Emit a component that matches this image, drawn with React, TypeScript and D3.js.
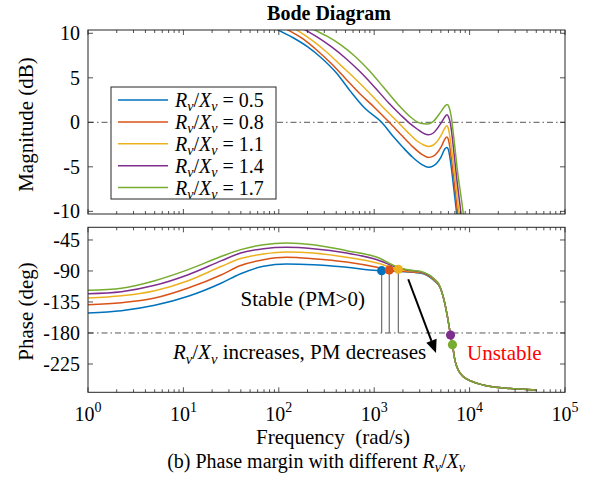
import React from "react";
import * as d3 from "d3";

// ---------- data ----------
const seriesLabels = ["0.5", "0.8", "1.1", "1.4", "1.7"];
const seriesColors = ["#0072BD", "#D95319", "#EDB120", "#7E2F8E", "#77AC30"];

// magnitude: [log10(ω rad/s), dB]
const magBlue: [number, number][] = [
  [1.85, 11.4], [1.995, 10.36], [2.15, 9.5], [2.3, 8.5], [2.45, 7.2], [2.6, 5.6], [2.75, 3.5],
  [2.9, 1.6], [3.078, 0], [3.2, -1.6], [3.3, -2.8], [3.4, -3.9], [3.5, -4.75], [3.567, -5.06],
  [3.62, -4.9], [3.7, -3.9], [3.74, -3.0], [3.76, -2.82], [3.775, -3.0], [3.79, -3.7],
  [3.81, -5.2], [3.835, -7.5], [3.865, -10.3], [3.9, -14],
];
const magOrange: [number, number][] = [
  [1.95, 11.2], [2.1, 10.36], [2.25, 9.4], [2.4, 8.1], [2.55, 6.6], [2.7, 4.9], [2.85, 3.2],
  [3.0, 1.7], [3.158, 0], [3.3, -1.6], [3.4, -2.7], [3.5, -3.6], [3.567, -3.94], [3.62, -3.8],
  [3.7, -2.8], [3.74, -1.9], [3.76, -1.66], [3.775, -1.85], [3.79, -2.6], [3.81, -4.2],
  [3.84, -6.8], [3.875, -10.3], [3.91, -14],
];
const magYellow: [number, number][] = [
  [2.05, 11.2], [2.19, 10.36], [2.35, 9.2], [2.5, 7.9], [2.65, 6.4], [2.8, 4.9], [2.95, 3.3],
  [3.1, 1.6], [3.25, 0], [3.35, -1.1], [3.45, -2.1], [3.52, -2.55], [3.567, -2.71], [3.62, -2.55],
  [3.7, -1.5], [3.74, -0.65], [3.76, -0.39], [3.775, -0.6], [3.79, -1.4], [3.815, -3.3],
  [3.85, -6.5], [3.89, -10.3], [3.93, -14.5],
];
const magPurple: [number, number][] = [
  [2.15, 11.2], [2.28, 10.36], [2.4, 9.6], [2.55, 8.5], [2.7, 7.2], [2.85, 5.7], [3.0, 4.0],
  [3.15, 2.2], [3.28, 0.8], [3.36, 0], [3.45, -0.75], [3.52, -1.25], [3.567, -1.4], [3.62, -1.2],
  [3.7, -0.1], [3.74, 0.6], [3.762, 0.84], [3.78, 0.6], [3.8, -0.2], [3.83, -2.8],
  [3.865, -6.3], [3.91, -10.3], [3.95, -14.5],
];
const magGreen: [number, number][] = [
  [2.25, 11.2], [2.38, 10.36], [2.5, 9.7], [2.65, 8.7], [2.8, 7.4], [2.95, 5.8], [3.1, 3.9],
  [3.25, 2.0], [3.38, 0.6], [3.46, 0], [3.52, -0.17], [3.56, -0.2], [3.62, 0.1], [3.7, 1.2],
  [3.74, 1.8], [3.765, 2.0], [3.785, 1.7], [3.805, 0.8], [3.83, -1.3], [3.87, -5.2],
  [3.934, -10.3], [3.97, -14],
];

// phase: [log10(ω rad/s), deg]
const phaseTail: [number, number][] = [
  [3.74, -137], [3.78, -166], [3.8, -183], [3.82, -197], [3.85, -222], [3.93, -243],
  [4.14, -255.4], [4.39, -260.2], [4.7, -262.7],
];
const phaseBlue: [number, number][] = [
  [0, -150.9], [0.35, -147.6], [0.7, -139.8], [1.05, -126.7], [1.4, -107.4], [1.6, -94],
  [1.84, -83.2], [2.08, -79.8], [2.36, -80.8], [2.71, -84.6], [3.03, -89.2], [3.078, -89.6],
  [3.27, -90.8], [3.48, -93], [3.62, -103], [3.69, -114],
];
const phaseOrange: [number, number][] = [
  [0, -138.9], [0.35, -136], [0.7, -129.2], [1.05, -114.7], [1.4, -95.4], [1.6, -82],
  [1.84, -73.6], [2.08, -70.1], [2.36, -72.1], [2.71, -76.9], [3.03, -84.6], [3.158, -88.5],
  [3.27, -90.2], [3.48, -92.3], [3.62, -102.3], [3.69, -113.6],
];
const phaseYellow: [number, number][] = [
  [0, -129.2], [0.35, -126], [0.7, -118.6], [1.05, -104.1], [1.4, -83.2], [1.6, -72],
  [1.84, -65.3], [2.08, -62.4], [2.36, -63.9], [2.71, -70.1], [3.03, -78.4], [3.253, -87.5],
  [3.35, -89.8], [3.48, -91.6], [3.62, -101.6], [3.69, -113.2],
];
const phasePurple: [number, number][] = [
  [0, -122.9], [0.35, -120], [0.7, -110.8], [1.05, -95.4], [1.4, -75.0], [1.6, -64],
  [1.84, -57.6], [2.08, -55.6], [2.36, -57.6], [2.71, -63.9], [3.03, -73.6], [3.253, -85.5],
  [3.35, -88.8], [3.48, -91], [3.62, -101], [3.69, -112.8],
];
const phaseGreen: [number, number][] = [
  [0, -118.0], [0.35, -115], [0.7, -104.1], [1.05, -88.1], [1.4, -68.7], [1.6, -59],
  [1.84, -51.8], [2.08, -49.4], [2.36, -51.8], [2.71, -60.5], [3.03, -70.1], [3.253, -84.5],
  [3.35, -88.2], [3.48, -90.5], [3.62, -100.5], [3.69, -112.4],
];

// crossover markers: [ω rad/s, phase deg]
const crossFreq = [1197, 1439, 1791, 6310, 6607];
const crossPhase = [-89.6, -88.5, -87.5, -183, -197];
const stableCount = 3;

// arrow in data space: [log10 ω, deg]
const arrowFrom: [number, number] = [3.357, -102];
const arrowTo: [number, number] = [3.648, -209];

const xTickExps = [0, 1, 2, 3, 4, 5];
const magTicks = [-10, -5, 0, 5, 10];
const phaseTicks = [-45, -90, -135, -180, -225];

const magSeries = [magBlue, magOrange, magYellow, magPurple, magGreen];
const phaseSeries = [phaseBlue, phaseOrange, phaseYellow, phasePurple, phaseGreen].map((s) =>
  s.concat(phaseTail)
);

// ---------- layout ----------
const W = 591;
const H = 484;
const L = 88;
const R = 565;
const magTop = 30;
const magBot = 214;
const phTop = 227.3;
const phBot = 392.3;
const FONT = "'Liberation Serif', 'Times New Roman', serif";
const AX = "#262626";

const x = d3.scaleLog().domain([1, 1e5]).range([L, R]);
const yMag = d3.scaleLinear().domain([-10.3, 10.37]).range([magBot, magTop]);
const yPh = d3.scaleLinear().domain([-266.1, -26.6]).range([phBot, phTop]);

const magLine = d3
  .line<[number, number]>()
  .x((d) => x(Math.pow(10, d[0])))
  .y((d) => yMag(d[1]))
  .curve(d3.curveMonotoneX);
const phLine = d3
  .line<[number, number]>()
  .x((d) => x(Math.pow(10, d[0])))
  .y((d) => yPh(d[1]))
  .curve(d3.curveMonotoneX);

const allXTicks = x.ticks();
const isMajor = (v: number) => Math.abs(Math.log10(v) - Math.round(Math.log10(v))) < 1e-6;

function XTicks({ top, bot }: { top: number; bot: number }) {
  return (
    <g stroke={AX} strokeWidth={0.8}>
      {allXTicks.map((v, i) => {
        const len = isMajor(v) ? 5 : 3;
        const xx = x(v);
        return (
          <g key={i}>
            <line x1={xx} x2={xx} y1={bot} y2={bot - len} />
            <line x1={xx} x2={xx} y1={top} y2={top + len} />
          </g>
        );
      })}
    </g>
  );
}

function YTicks({ ticks, scale }: { ticks: number[]; scale: (v: number) => number }) {
  return (
    <g>
      {ticks.map((t) => (
        <g key={t}>
          <line x1={L} x2={L + 5} y1={scale(t)} y2={scale(t)} stroke={AX} strokeWidth={0.8} />
          <line x1={R} x2={R - 5} y1={scale(t)} y2={scale(t)} stroke={AX} strokeWidth={0.8} />
          <text x={80} y={scale(t)} dy="0.34em" textAnchor="end" fontSize={20} fill="#000">
            {t}
          </text>
        </g>
      ))}
    </g>
  );
}

function RX({ size, sub }: { size: number; sub: number }) {
  return (
    <>
      <tspan fontStyle="italic">R</tspan>
      <tspan fontStyle="italic" fontSize={sub} dy={size * 0.22}>v</tspan>
      <tspan dy={-size * 0.22}>/</tspan>
      <tspan fontStyle="italic">X</tspan>
      <tspan fontStyle="italic" fontSize={sub} dy={size * 0.22}>v</tspan>
    </>
  );
}

export default function App() {
  const legendRows = seriesLabels.map((_, i) => 100 + i * 21.9);
  const ax = x(Math.pow(10, arrowFrom[0]));
  const ay = yPh(arrowFrom[1]);
  const bx = x(Math.pow(10, arrowTo[0]));
  const by = yPh(arrowTo[1]);
  const ang = Math.atan2(by - ay, bx - ax);
  const headLen = 13;
  const headW = 5.5;
  const baseX = bx - headLen * Math.cos(ang);
  const baseY = by - headLen * Math.sin(ang);
  const px = -Math.sin(ang);
  const py = Math.cos(ang);

  return (
    <svg
      width={W}
      height={H}
      style={{ position: "absolute", left: 0, top: 0, background: "#fff", fontFamily: FONT }}
      fontFamily={FONT}
    >
      <defs>
        <clipPath id="magClip">
          <rect x={L} y={magTop} width={R - L} height={magBot - magTop} />
        </clipPath>
        <clipPath id="phClip">
          <rect x={L} y={phTop} width={R - L} height={phBot - phTop} />
        </clipPath>
      </defs>
      <rect x={0} y={0} width={W} height={H} fill="#fff" />

      {/* title */}
      <text x={329} y={20} textAnchor="middle" fontSize={20} fontWeight="bold">
        Bode Diagram
      </text>

      {/* ---- magnitude panel ---- */}
      <line
        x1={L}
        x2={R}
        y1={yMag(0)}
        y2={yMag(0)}
        stroke="#555"
        strokeWidth={1}
        strokeDasharray="6 3 1.5 3"
      />
      <g clipPath="url(#magClip)" fill="none" strokeWidth={1.5}>
        {magSeries.map((s, i) => (
          <path key={i} d={magLine(s) || ""} stroke={seriesColors[i]} />
        ))}
      </g>
      <rect x={L} y={magTop} width={R - L} height={magBot - magTop} fill="none" stroke={AX} strokeWidth={1} />
      <XTicks top={magTop} bot={magBot} />
      <YTicks ticks={magTicks} scale={yMag} />
      <text
        transform={`translate(33, 124.5) rotate(-90)`}
        textAnchor="middle"
        fontSize={21}
      >
        Magnitude (dB)
      </text>

      {/* legend */}
      <rect x={111} y={87} width={165} height={112} fill="#fff" stroke={AX} strokeWidth={1} />
      {seriesLabels.map((lab, i) => (
        <g key={lab}>
          <line x1={118} x2={168} y1={legendRows[i]} y2={legendRows[i]} stroke={seriesColors[i]} strokeWidth={1.5} />
          <text x={175} y={legendRows[i] + 7} fontSize={20}>
            <RX size={20} sub={14} />
            <tspan dy={-20 * 0.22}>{" = " + lab}</tspan>
          </text>
        </g>
      ))}

      {/* ---- phase panel ---- */}
      <line
        x1={L}
        x2={R}
        y1={yPh(-180)}
        y2={yPh(-180)}
        stroke="#555"
        strokeWidth={1}
        strokeDasharray="6 3 1.5 3"
      />
      <g clipPath="url(#phClip)" fill="none" strokeWidth={1.5}>
        {phaseSeries.map((s, i) => (
          <path key={i} d={phLine(s) || ""} stroke={seriesColors[i]} />
        ))}
      </g>
      {/* stability guides */}
      {crossFreq.slice(0, stableCount).map((f, i) => (
        <line
          key={i}
          x1={x(f)}
          x2={x(f)}
          y1={yPh(crossPhase[i])}
          y2={yPh(-180)}
          stroke="#6f6f6f"
          strokeWidth={1.2}
        />
      ))}
      {crossFreq.map((f, i) => (
        <circle key={i} cx={x(f)} cy={yPh(crossPhase[i])} r={4.6} fill={seriesColors[i]} />
      ))}
      {/* arrow */}
      <line x1={ax} y1={ay} x2={baseX} y2={baseY} stroke="#000" strokeWidth={2} />
      <polygon
        points={`${bx},${by} ${baseX + px * headW},${baseY + py * headW} ${baseX - px * headW},${baseY - py * headW}`}
        fill="#000"
      />
      <text x={240.5} y={306} fontSize={21}>
        Stable (PM&gt;0)
      </text>
      <text x={173} y={359} fontSize={21}>
        <RX size={21} sub={14.5} />
        <tspan dy={-21 * 0.22}> increases, PM decreases</tspan>
      </text>
      <text x={467} y={360} fontSize={21} fill="#ff0000">
        Unstable
      </text>

      <rect x={L} y={phTop} width={R - L} height={phBot - phTop} fill="none" stroke={AX} strokeWidth={1} />
      <XTicks top={phTop} bot={phBot} />
      <YTicks ticks={phaseTicks} scale={yPh} />
      <text transform={`translate(33, 311.5) rotate(-90)`} textAnchor="middle" fontSize={21}>
        Phase (deg)
      </text>

      {/* x tick labels */}
      {xTickExps.map((e) => (
        <text key={e} x={x(Math.pow(10, e))} y={421} textAnchor="middle" fontSize={20}>
          <tspan>10</tspan>
          <tspan fontSize={14} dy={-9}>
            {e}
          </tspan>
        </text>
      ))}
      <text x={333} y={444} textAnchor="middle" fontSize={21} style={{ whiteSpace: "pre" }}>
        {"Frequency  (rad/s)"}
      </text>

      {/* caption */}
      <text x={316} y={468} textAnchor="middle" fontSize={20}>
        <tspan>(b) Phase margin with different </tspan>
        <RX size={20} sub={14} />
      </text>
    </svg>
  );
}
